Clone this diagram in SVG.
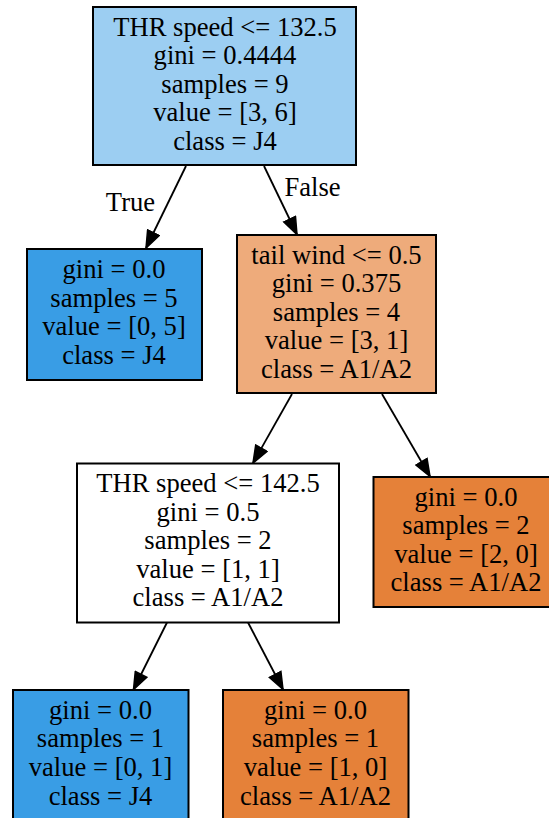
<svg xmlns="http://www.w3.org/2000/svg" width="549" height="818" viewBox="0 0 549 818">
<defs>
<style>
.box{stroke:#000;stroke-width:2}
.t{font-family:"Liberation Serif","Times New Roman",serif;font-size:26.6px;fill:#000;text-anchor:middle}
.e{stroke:#000;stroke-width:1.8;fill:none}
</style>
<marker id="ah" markerUnits="userSpaceOnUse" viewBox="-1 -1 19 15" markerWidth="19" markerHeight="15" refX="17" refY="6.5" orient="auto">
<path d="M0,0 L17,6.5 L0,13 z" fill="#000" stroke="#000" stroke-width="1.5"/>
</marker>
</defs>
<rect width="549" height="818" fill="#fff"/>
<g id="edges">
<line class="e" x1="186" y1="166" x2="146" y2="248" marker-end="url(#ah)"/>
<line class="e" x1="264" y1="166" x2="297" y2="234.5" marker-end="url(#ah)"/>
<line class="e" x1="292" y1="394" x2="253" y2="463" marker-end="url(#ah)"/>
<line class="e" x1="382" y1="394" x2="430" y2="476.5" marker-end="url(#ah)"/>
<line class="e" x1="167" y1="622.5" x2="133.5" y2="689.5" marker-end="url(#ah)"/>
<line class="e" x1="248" y1="622.5" x2="283" y2="689.5" marker-end="url(#ah)"/>
<text class="t" x="130.5" y="210.5">True</text>
<text class="t" x="312.5" y="196">False</text>
</g>
<g id="n0">
<rect class="box" x="93" y="7" width="263" height="158" fill="#9ccef2"/>
<text class="t" x="225" y="35.5">THR speed &lt;= 132.5</text>
<text class="t" x="225" y="64">gini = 0.4444</text>
<text class="t" x="225" y="92.5">samples = 9</text>
<text class="t" x="225" y="121">value = [3, 6]</text>
<text class="t" x="225" y="149.5">class = J4</text>
</g>
<g id="n1">
<rect class="box" x="27" y="249" width="175" height="131" fill="#399de5"/>
<text class="t" x="114" y="278">gini = 0.0</text>
<text class="t" x="114" y="306.5">samples = 5</text>
<text class="t" x="114" y="335">value = [0, 5]</text>
<text class="t" x="114" y="363.5">class = J4</text>
</g>
<g id="n2">
<rect class="box" x="237" y="235" width="199" height="158" fill="#eeab7b"/>
<text class="t" x="336.5" y="263.5">tail wind &lt;= 0.5</text>
<text class="t" x="336.5" y="292">gini = 0.375</text>
<text class="t" x="336.5" y="320.5">samples = 4</text>
<text class="t" x="336.5" y="349">value = [3, 1]</text>
<text class="t" x="336.5" y="377.5">class = A1/A2</text>
</g>
<g id="n3">
<rect class="box" x="77" y="463.5" width="262" height="159" fill="#ffffff"/>
<text class="t" x="208" y="492">THR speed &lt;= 142.5</text>
<text class="t" x="208" y="520.5">gini = 0.5</text>
<text class="t" x="208" y="549">samples = 2</text>
<text class="t" x="208" y="577.5">value = [1, 1]</text>
<text class="t" x="208" y="606">class = A1/A2</text>
</g>
<g id="n4">
<rect class="box" x="373.5" y="477" width="190" height="130" fill="#e58139"/>
<text class="t" x="466" y="505.5">gini = 0.0</text>
<text class="t" x="466" y="534">samples = 2</text>
<text class="t" x="466" y="562.5">value = [2, 0]</text>
<text class="t" x="466" y="591">class = A1/A2</text>
</g>
<g id="n5">
<rect class="box" x="13" y="690" width="175.5" height="140" fill="#399de5"/>
<text class="t" x="100.5" y="718.5">gini = 0.0</text>
<text class="t" x="100.5" y="747">samples = 1</text>
<text class="t" x="100.5" y="775.5">value = [0, 1]</text>
<text class="t" x="100.5" y="804.5">class = J4</text>
</g>
<g id="n6">
<rect class="box" x="223" y="690" width="185.5" height="140" fill="#e58139"/>
<text class="t" x="315.5" y="718.5">gini = 0.0</text>
<text class="t" x="315.5" y="747">samples = 1</text>
<text class="t" x="315.5" y="775.5">value = [1, 0]</text>
<text class="t" x="315.5" y="804.5">class = A1/A2</text>
</g>
</svg>
